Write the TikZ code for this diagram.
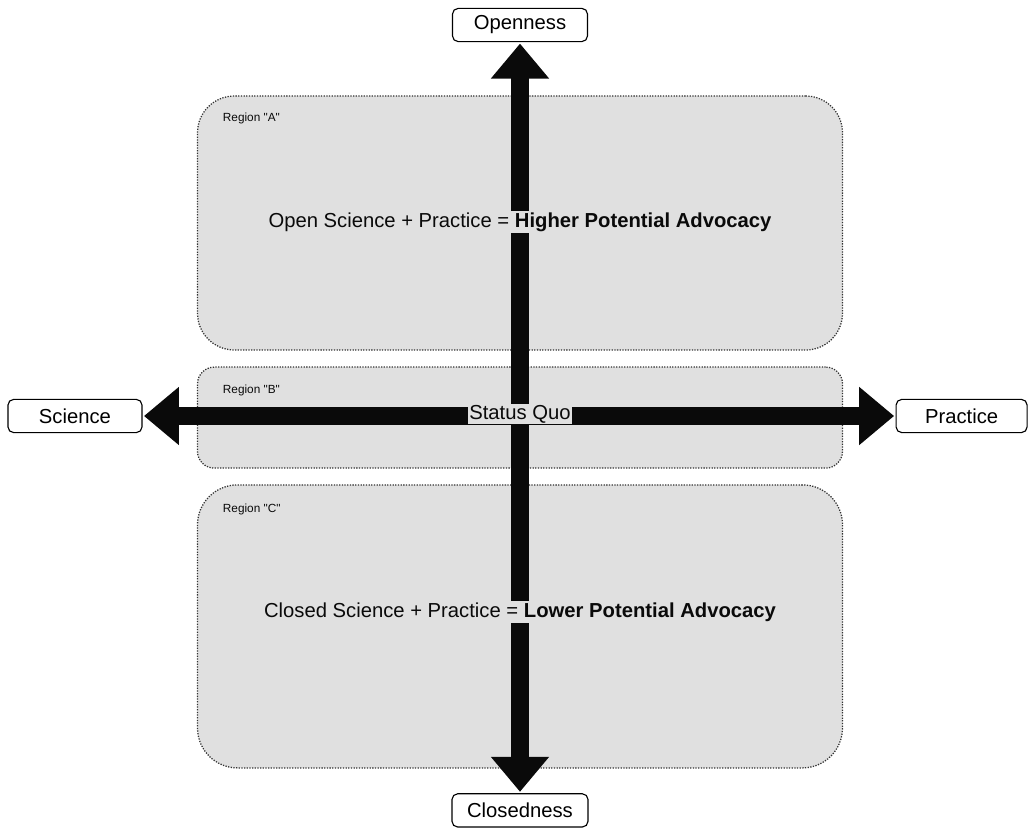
\documentclass[tikz,border=0pt]{standalone}
\usepackage{fontspec}
\setmainfont{Liberation Sans}
\usetikzlibrary{arrows.meta, positioning}
\definecolor{cRegion}{RGB}{224, 224, 224}
\definecolor{bRegion}{RGB}{50, 50, 50}
\definecolor{tDark}{RGB}{10, 10, 10}

\begin{document}
\begin{tikzpicture}[
    font=\fontsize{14.4}{17}\selectfont,
    region/.style={
        draw=bRegion,
        fill=cRegion,
        densely dotted,
        line width=0.9pt,
        rounded corners=#1
    },
    endbox/.style={
        draw=black,
        fill=white,
        line width=0.8pt,
        rounded corners=4pt,
        minimum height=0.83cm,
        inner sep=2pt
    },
    tag/.style={font=\fontsize{8.4}{10}\selectfont, anchor=west, text=tDark},
    claim/.style={fill=cRegion, inner sep=1pt, text=tDark},
    axis/.style={-{Triangle[length=0.875cm, width=1.4cm]}, line width=0.45cm, color=tDark, shorten >=1pt}
]
\useasboundingbox (-13,-10.3) rectangle (12.75,10.4);

% Regions
\node[region=0.92cm, minimum width=16.125cm, minimum height=6.35cm] (regA) at (0, 4.825) {};
\node[region=0.42cm, minimum width=16.125cm, minimum height=2.525cm] (regB) at (0, -0.04) {};
\node[region=1.0cm, minimum width=16.125cm, minimum height=7.075cm] (regC) at (0, -5.26) {};

\node[tag] (tagA) at (-7.55, 7.45) {Region \textquotedbl A\textquotedbl};
\node[tag] (tagB) at (-7.55, 0.65) {Region \textquotedbl B\textquotedbl};
\node[tag] (tagC) at (-7.55, -2.33) {Region \textquotedbl C\textquotedbl};

% Poles
\node[endbox, minimum width=3.375cm] (open) at (0, 9.775) {Openness};
\node[endbox, minimum width=3.4cm] (closed) at (0, -9.86) {Closedness};
\node[endbox, minimum width=3.35cm] (sci) at (-11.125, 0) {Science};
\node[endbox, minimum width=3.275cm] (prac) at (11.04, 0) {Practice};

% Axes
\coordinate (origin) at (0, 0);
\draw[axis] (origin) -- (open);
\draw[axis] (origin) -- (closed);
\draw[axis] (origin) -- (sci);
\draw[axis] (origin) -- (prac);

% Statements
\node[claim] (hi) at (0, 4.85) {Open Science + Practice = \textbf{Higher Potential Advocacy}};
\node[claim] (quo) at (0, 0.05) {Status Quo};
\node[claim] (lo) at (0, -4.9) {Closed Science + Practice = \textbf{Lower Potential Advocacy}};

\end{tikzpicture}
\end{document}
